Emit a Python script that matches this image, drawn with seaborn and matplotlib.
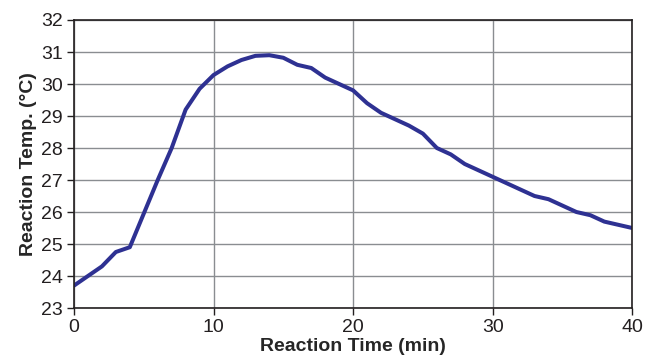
import numpy as np
import pandas as pd
import matplotlib
matplotlib.use("Agg")
import matplotlib.pyplot as plt
import seaborn as sns

# reaction time (min) and temperature (C)
time_min = list(range(0, 41))
temp_c = [23.7, 24.0, 24.3, 24.75, 24.9, 25.95, 27.0, 28.0, 29.2, 29.85,
          30.28, 30.55, 30.75, 30.88, 30.9, 30.82, 30.6, 30.5, 30.2, 30.0,
          29.8, 29.4, 29.1, 28.9, 28.7, 28.45, 28.0, 27.8, 27.5, 27.3,
          27.1, 26.9, 26.7, 26.5, 26.4, 26.2, 26.0, 25.9, 25.7, 25.6, 25.5]
x_ticks = [0, 10, 20, 30, 40]
y_ticks = list(range(23, 33))

df = pd.DataFrame({"time": time_min, "temp": temp_c})

sns.set_style("white")
plt.rcParams["font.family"] = ["Liberation Sans", "DejaVu Sans"]

fig = plt.figure(figsize=(6.45, 3.61), dpi=100)
ax = fig.add_axes([0.1147, 0.1468, 0.8655, 0.7978])

sns.lineplot(data=df, x="time", y="temp", ax=ax, color="#2e3192", linewidth=2.9,
             solid_joinstyle="round", solid_capstyle="round")

ax.set_xlim(0, 40)
ax.set_ylim(23, 32)
ax.set_xticks(x_ticks)
ax.set_yticks(y_ticks)
ax.grid(True, color="#8a8d91", linewidth=1)
ax.set_axisbelow(True)
for s in ax.spines.values():
    s.set_color("#231f20")
    s.set_linewidth(1.2)
ax.tick_params(axis="both", direction="out", length=5, width=1,
               labelsize=14, colors="#231f20", pad=3, left=True, bottom=True)

ax.set_xlabel("Reaction Time (min)", fontsize=14, fontweight="bold", labelpad=1)
ax.set_ylabel("Reaction Temp. (\u00b0C)", fontsize=14, fontweight="bold", labelpad=3)

fig.savefig("out.png", dpi=100)
